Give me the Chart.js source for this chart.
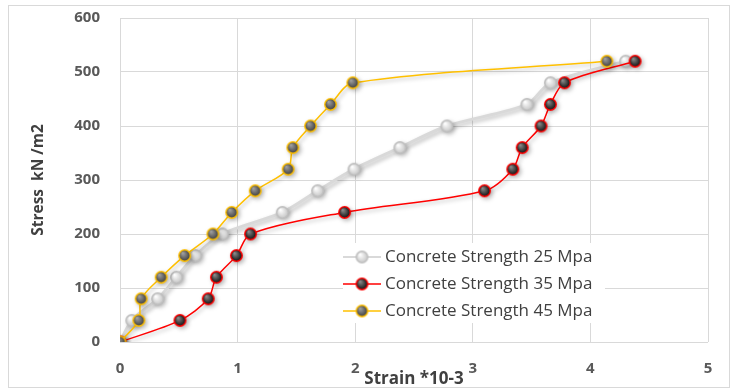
<!DOCTYPE html>
<html>
<head>
<meta charset="utf-8">
<script src="https://cdn.jsdelivr.net/npm/chart.js@4/dist/chart.umd.min.js"></script>
<style>
  html, body { margin: 0; padding: 0; background: #fff; }
  #wrap { width: 734px; height: 391px; }
</style>
</head>
<body>
<div id="wrap"><canvas id="myChart" width="734" height="391"></canvas></div>
<script>
/* values */
var stress = [0, 40, 80, 120, 160, 200, 240, 280, 320, 360, 400, 440, 480, 520];
var strain25 = [0, 0.10, 0.32, 0.48, 0.64, 0.87, 1.38, 1.68, 1.99, 2.38, 2.78, 3.46, 3.66, 4.30];
var strain35 = [0, 0.51, 0.75, 0.82, 0.99, 1.11, 1.91, 3.10, 3.34, 3.42, 3.58, 3.66, 3.78, 4.38];
var strain45 = [0, 0.16, 0.18, 0.35, 0.55, 0.79, 0.95, 1.15, 1.43, 1.47, 1.62, 1.79, 1.98, 4.14];
var seriesNames = ["Concrete Strength 25 Mpa", "Concrete Strength 35 Mpa", "Concrete Strength 45 Mpa"];
var xTicks = [0, 1, 2, 3, 4, 5];
var yTicks = [0, 100, 200, 300, 400, 500, 600];

function toPoints(xs, ys){
  var pts = [];
  for (var i = 0; i < xs.length; i++) {
    pts.push({x: xs[i], y: ys[i]});
  }
  return pts;
}

/* little shaded balls like the excel markers */
function makeBall(ring, inner, light){
  var c = document.createElement('canvas');
  c.width = 15; c.height = 15;
  var g = c.getContext('2d');
  g.beginPath();
  g.arc(7.5, 7.5, 6.5, 0, Math.PI*2);
  g.fillStyle = ring;
  g.fill();
  var grd = g.createRadialGradient(5.5, 5, 0.5, 7.5, 7.5, 5.5);
  grd.addColorStop(0, light);
  grd.addColorStop(1, inner);
  g.beginPath();
  g.arc(7.5, 7.5, ring == inner ? 6.5 : 5, 0, Math.PI*2);
  g.fillStyle = grd;
  g.fill();
  return c;
}

var ball25 = makeBall('#bfbfbf', '#c8c8c8', '#ffffff');
var ball35 = makeBall('#ff0000', '#111111', '#8a8a8a');
var ball45 = makeBall('#ffc000', '#3f3f3f', '#a0a0a0');
var balls = [ball25, ball35, ball45];
var lineColors = ['#d9d9d9', '#ff0000', '#ffc000'];
var lineWidths = [3, 1.5, 1.5];

/* drop shadow under the series */
var shadowPlugin = {
  id: 'shadow',
  beforeDatasetsDraw: function(chart){
    var ctx = chart.ctx;
    ctx.save();
    ctx.shadowColor = 'rgba(0,0,0,0.28)';
    ctx.shadowBlur = 4;
    ctx.shadowOffsetX = 2;
    ctx.shadowOffsetY = 2;
  },
  afterDatasetsDraw: function(chart){
    chart.ctx.restore();
  }
};

/* border round the whole chart + legend box inside the plot */
var boxPlugin = {
  id: 'box',
  afterDraw: function(chart){
    var ctx = chart.ctx;
    ctx.save();
    ctx.strokeStyle = '#d9d9d9';
    ctx.lineWidth = 1;
    ctx.strokeRect(8.5, 5.5, 721, 382);

    var lx = 343, ly = 243;
    ctx.fillStyle = '#ffffff';
    ctx.fillRect(lx, ly, 262, 80);
    ctx.font = '17px "Open Sans"';
    ctx.textBaseline = 'middle';
    for (var i = 0; i < 3; i++) {
      var yy = ly + 14 + i * 27;
      ctx.strokeStyle = lineColors[i];
      ctx.lineWidth = i == 0 ? 2 : 1.5;
      ctx.beginPath();
      ctx.moveTo(lx, yy);
      ctx.lineTo(lx + 38, yy);
      ctx.stroke();
      ctx.drawImage(balls[i], lx + 19 - 7.5, yy - 7.5);
      ctx.fillStyle = '#404040';
      ctx.fillText(seriesNames[i], lx + 42, yy);
    }
    ctx.restore();
  }
};

var ctx = document.getElementById('myChart').getContext('2d');
var myChart = new Chart(ctx, {
  type: 'scatter',
  data: {
    datasets: [{
      label: seriesNames[0],
      data: toPoints(strain25, stress),
      showLine: true,
      borderColor: lineColors[0],
      borderWidth: lineWidths[0],
      tension: 0.3,
      pointStyle: ball25,
      order: 3
    }, {
      label: seriesNames[1],
      data: toPoints(strain35, stress),
      showLine: true,
      borderColor: lineColors[1],
      borderWidth: lineWidths[1],
      tension: 0.3,
      pointStyle: ball35,
      order: 2
    }, {
      label: seriesNames[2],
      data: toPoints(strain45, stress),
      showLine: true,
      borderColor: lineColors[2],
      borderWidth: lineWidths[2],
      tension: 0.3,
      pointStyle: ball45,
      order: 1
    }]
  },
  options: {
    responsive: false,
    animation: false,
    devicePixelRatio: 1,
    layout: { padding: { top: 18, right: 26, bottom: 0, left: 0 } },
    plugins: {
      legend: { display: false },
      tooltip: { enabled: false }
    },
    scales: {
      x: {
        type: 'linear',
        min: 0, max: 5,
        afterBuildTicks: function(scale){ scale.ticks = xTicks.map(function(v){ return {value: v}; }); },
        afterFit: function(scale){ scale.height = 49; scale.paddingLeft = 0; scale.paddingRight = 0; },
        grid: { color: '#d9d9d9', drawTicks: false },
        border: { display: false },
        ticks: { padding: 18, color: '#595959', font: { family: '"Open Sans"', size: 15, weight: 'bold' } },
        title: {
          display: true,
          text: 'Strain *10-3',
          color: '#404040',
          padding: { top: 0, bottom: 2 },
          font: { family: '"Open Sans"', size: 17, weight: 'bold' }
        }
      },
      y: {
        min: 0, max: 600,
        afterBuildTicks: function(scale){ scale.ticks = yTicks.map(function(v){ return {value: v}; }); },
        afterFit: function(scale){ scale.width = 120; scale.paddingTop = 0; scale.paddingBottom = 0; },
        grid: { color: '#d9d9d9', drawTicks: false },
        border: { display: false },
        ticks: { padding: 20, color: '#595959', font: { family: '"Open Sans"', size: 15, weight: 'bold' } },
        title: {
          display: true,
          text: 'Stress  kN /m2',
          color: '#404040',
          padding: { top: 29, bottom: 0 },
          font: { family: '"Open Sans"', size: 15.5, weight: 'bold' }
        }
      }
    }
  },
  plugins: [shadowPlugin, boxPlugin]
});
</script>
</body>
</html>
